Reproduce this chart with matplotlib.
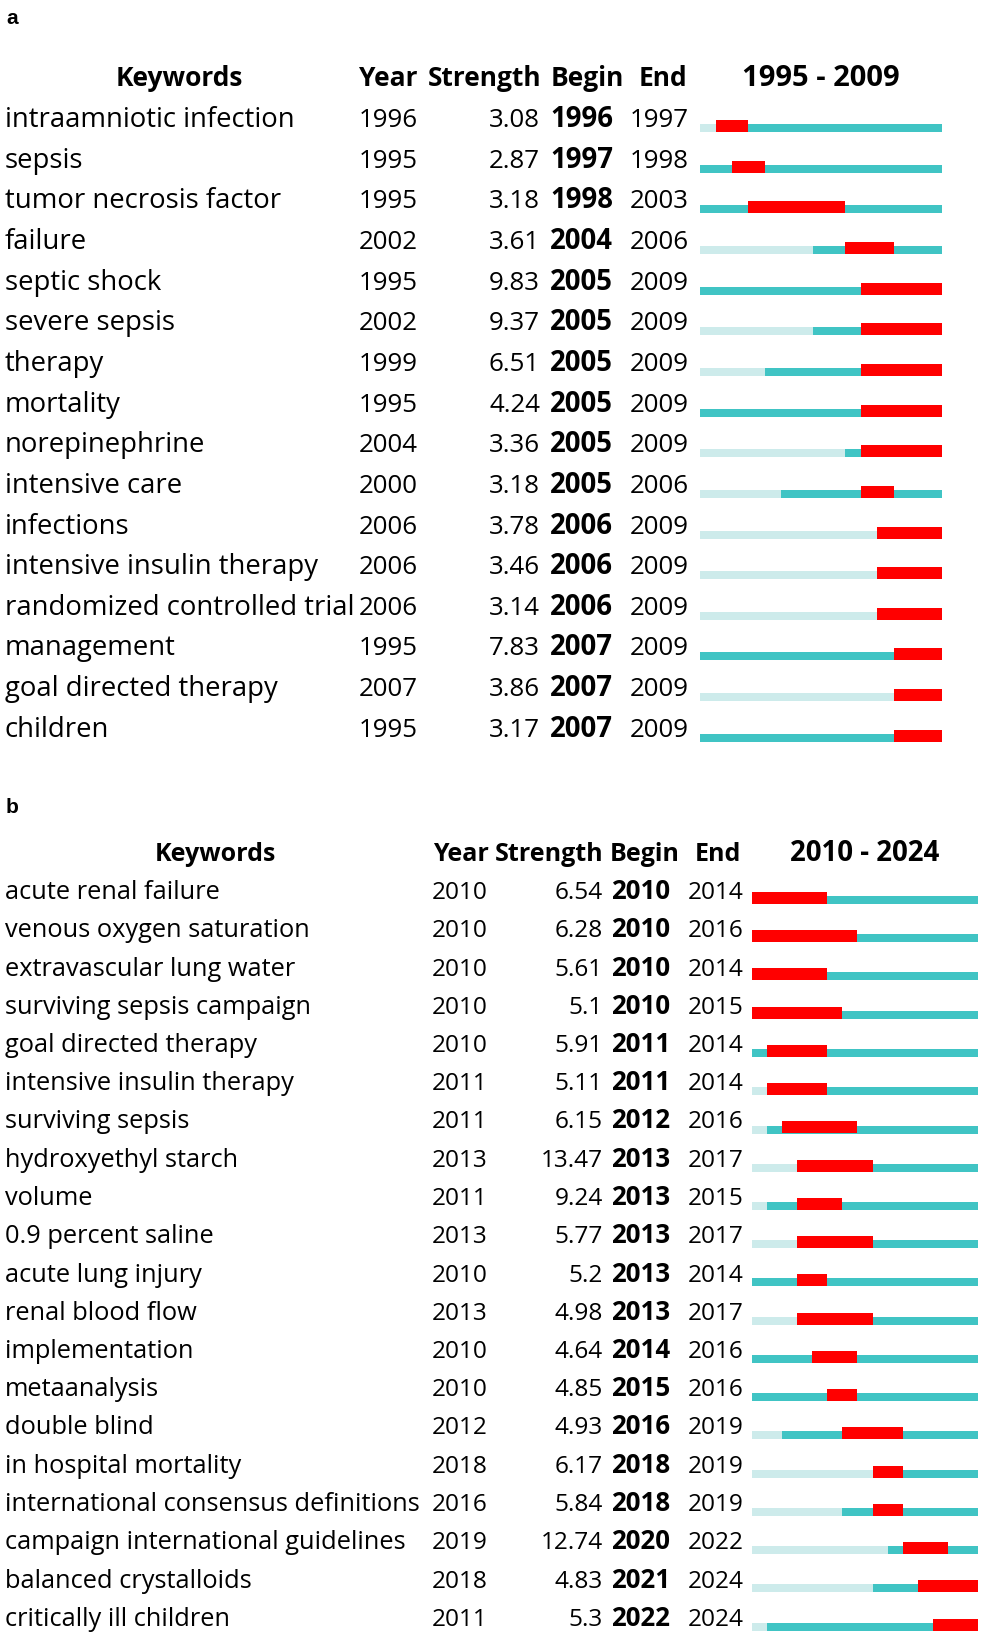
import numpy as np
import matplotlib.pyplot as plt

plt.rcParams['font.family'] = ['Open Sans', 'DejaVu Sans']

# ---- panel a data (1995 - 2009)
keywords_a = ["intraamniotic infection", "sepsis", "tumor necrosis factor", "failure",
              "septic shock", "severe sepsis", "therapy", "mortality", "norepinephrine",
              "intensive care", "infections", "intensive insulin therapy",
              "randomized controlled trial", "management", "goal directed therapy", "children"]
year_a = [1996, 1995, 1995, 2002, 1995, 2002, 1999, 1995, 2004, 2000, 2006, 2006, 2006, 1995, 2007, 1995]
strength_a = [3.08, 2.87, 3.18, 3.61, 9.83, 9.37, 6.51, 4.24, 3.36, 3.18, 3.78, 3.46, 3.14, 7.83, 3.86, 3.17]
begin_a = [1996, 1997, 1998, 2004, 2005, 2005, 2005, 2005, 2005, 2005, 2006, 2006, 2006, 2007, 2007, 2007]
end_a = [1997, 1998, 2003, 2006, 2009, 2009, 2009, 2009, 2009, 2006, 2009, 2009, 2009, 2009, 2009, 2009]

# ---- panel b data (2010 - 2024)
keywords_b = ["acute renal failure", "venous oxygen saturation", "extravascular lung water",
              "surviving sepsis campaign", "goal directed therapy", "intensive insulin therapy",
              "surviving sepsis", "hydroxyethyl starch", "volume", "0.9 percent saline",
              "acute lung injury", "renal blood flow", "implementation", "metaanalysis",
              "double blind", "in hospital mortality", "international consensus definitions",
              "campaign international guidelines", "balanced crystalloids", "critically ill children"]
year_b = [2010, 2010, 2010, 2010, 2010, 2011, 2011, 2013, 2011, 2013, 2010, 2013, 2010, 2010,
          2012, 2018, 2016, 2019, 2018, 2011]
strength_b = [6.54, 6.28, 5.61, 5.1, 5.91, 5.11, 6.15, 13.47, 9.24, 5.77, 5.2, 4.98, 4.64, 4.85,
              4.93, 6.17, 5.84, 12.74, 4.83, 5.3]
begin_b = [2010, 2010, 2010, 2010, 2011, 2011, 2012, 2013, 2013, 2013, 2013, 2013, 2014, 2015,
           2016, 2018, 2018, 2020, 2021, 2022]
end_b = [2014, 2016, 2014, 2015, 2014, 2014, 2016, 2017, 2015, 2017, 2014, 2017, 2016, 2016,
         2019, 2019, 2019, 2022, 2024, 2024]

RED = '#FF0000'
TEAL = '#40C4C4'
LIGHT = '#CDEBEB'

W, H = 984, 1637
fig = plt.figure(figsize=(W / 100, H / 100), dpi=100)
bg = fig.add_axes([0, 0, 1, 1])
bg.set_xlim(0, W)
bg.set_ylim(H, 0)
bg.axis('off')


def panel(label, label_y, kw, yr, st, bg_, en, first, last, base0, step,
          fs, fs_kw, fs_b, fs_h, fs_r,
          x_kw, x_year, x_str, x_begin, x_end, x_bar0, x_bar1, hdr_x):
    n = len(kw)
    # panel letter
    bg.text(6, label_y, label, fontsize=15, fontweight='bold', family='Liberation Sans',
            ha='left', va='baseline')
    hb = base0 - step
    hd = dict(fontsize=fs_h, fontweight='bold', va='baseline')
    bg.text(hdr_x['kw'], hb, 'Keywords', ha='center', **hd)
    bg.text(hdr_x['year'], hb, 'Year', ha='left', **hd)
    bg.text(hdr_x['str'], hb, 'Strength', ha='right', **hd)
    bg.text(hdr_x['begin'], hb, 'Begin', ha='left', **hd)
    bg.text(hdr_x['end'], hb, 'End', ha='left', **hd)
    bg.text((x_bar0 + x_bar1) / 2, hb, f'{first} - {last}', fontsize=fs_r, fontweight='bold',
            ha='center', va='baseline')
    for i in range(n):
        yb = base0 + i * step
        bg.text(x_kw, yb, kw[i], fontsize=fs_kw, ha='left', va='baseline')
        bg.text(x_year, yb, str(yr[i]), fontsize=fs, ha='left', va='baseline')
        bg.text(x_str, yb, f'{st[i]:g}', fontsize=fs, ha='right', va='baseline')
        bg.text(x_begin, yb, str(bg_[i]), fontsize=fs_b, fontweight='bold', ha='left', va='baseline')
        bg.text(x_end, yb, str(en[i]), fontsize=fs, ha='left', va='baseline')

    # burst bars axes, rows aligned with the text rows
    top = base0 - step / 2
    bot = base0 + (n - 0.5) * step
    ax = fig.add_axes([x_bar0 / W, 1 - bot / H, (x_bar1 - x_bar0) / W, (bot - top) / H])
    ax.set_xlim(first, last + 1)
    ax.set_ylim(n - 0.5, -0.5)
    ax.axis('off')
    rows = np.arange(n)
    yr = np.array(yr)
    bg_ = np.array(bg_)
    en = np.array(en)
    # bottom of bars sits 5 px under the baseline
    th, rh = 8 / step, 12 / step
    bottom = 5 / step
    ax.barh(rows + bottom - th / 2, yr - first, left=first, height=th, color=LIGHT, linewidth=0)
    ax.barh(rows + bottom - th / 2, last + 1 - yr, left=yr, height=th, color=TEAL, linewidth=0)
    ax.barh(rows + bottom - rh / 2, en + 1 - bg_, left=bg_, height=rh, color=RED, linewidth=0)


panel('a', 24, keywords_a, year_a, strength_a, begin_a, end_a, 1995, 2009,
      127, 40.65, 18.6, 19.8, 19.8, 19.0, 21.0,
      5, 359, 540, 550, 630, 700, 942,
      {'kw': 179, 'year': 359, 'str': 541, 'begin': 551, 'end': 639})

panel('b', 813, keywords_b, year_b, strength_b, begin_b, end_b, 2010, 2024,
      899, 38.25, 17.6, 18.3, 18.6, 18.0, 19.9,
      5, 432, 603, 611, 688, 752, 978,
      {'kw': 215, 'year': 433, 'str': 603, 'begin': 610, 'end': 695})

fig.savefig('out.png', dpi=100)
